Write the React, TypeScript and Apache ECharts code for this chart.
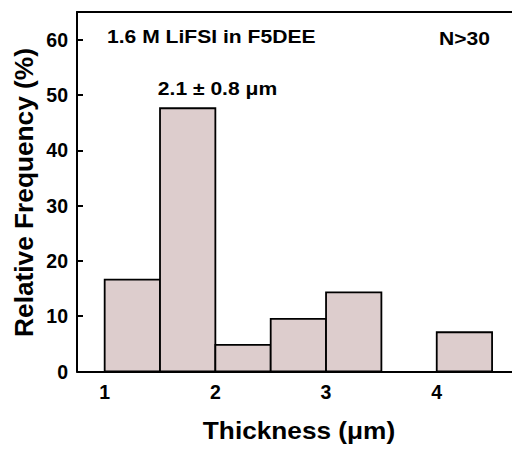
import React, { useEffect, useRef } from "react";
import * as echarts from "echarts";

const binStarts = [1.0, 1.5, 2.0, 2.5, 3.0, 3.5, 4.0];
const binEnds = [1.5, 2.0, 2.5, 3.0, 3.5, 4.0, 4.5];
const frequencies = [16.6, 47.6, 4.8, 9.5, 14.3, 0, 7.1];
const xTickLabels = [1, 2, 3, 4];
const yTickLabels = [0, 10, 20, 30, 40, 50, 60];
const titleText = "1.6 M LiFSI in F5DEE";
const countText = "N>30";
const meanText = "2.1 ± 0.8 μm";
const xName = "Thickness (μm)";
const yName = "Relative Frequency (%)";

const FONT = "Liberation Sans";

export default function App() {
  const ref = useRef<HTMLDivElement>(null);
  useEffect(() => {
    if (!ref.current) return;
    const chart = echarts.init(ref.current, null, { renderer: "svg" });
    const data = binStarts.map((s, i) => [s, binEnds[i], frequencies[i]]);
    const axisLine = { show: true, lineStyle: { color: "#000", width: 2 } };
    const tickFont = { color: "#000", fontSize: 19.5, fontWeight: "bold", fontFamily: FONT };
    chart.setOption({
      animation: false,
      backgroundColor: "#fff",
      grid: { left: 77, right: 0, top: 12, bottom: 77.5, containLabel: false },
      xAxis: [
        {
          type: "value",
          min: 0.75,
          max: 4.68,
          interval: 0.25,
          axisLine,
          axisTick: { show: false },
          axisLabel: {
            margin: 10,
            showMinLabel: false,
            showMaxLabel: false,
            ...tickFont,
            formatter: (v: number) => {
              const r = Math.round(v * 100) / 100;
              return xTickLabels.includes(r) ? String(r) : "";
            },
          },
          splitLine: { show: false },
        },
        {
          type: "value",
          position: "top",
          min: 0.75,
          max: 4.68,
          axisLine,
          axisTick: { show: false },
          axisLabel: { show: false },
          splitLine: { show: false },
        },
      ],
      yAxis: {
        type: "value",
        min: 0,
        max: 65,
        interval: 10,
        axisLine,
        axisTick: { show: true, inside: true, length: 6, lineStyle: { color: "#000", width: 2 } },
        axisLabel: {
          margin: 9,
          showMaxLabel: false,
          ...tickFont,
          formatter: (v: number) => (yTickLabels.includes(v) ? String(v) : ""),
        },
        splitLine: { show: false },
      },
      series: [
        {
          type: "custom",
          xAxisIndex: 0,
          encode: { x: [0, 1], y: 2 },
          data,
          renderItem: (params: any, api: any) => {
            const v = api.value(2);
            if (!v) return null;
            const p0 = api.coord([api.value(0), v]);
            const p1 = api.coord([api.value(1), 0]);
            return {
              type: "rect",
              shape: { x: p0[0], y: p0[1], width: p1[0] - p0[0], height: p1[1] - p0[1] },
              style: { fill: "#ddcdcd", stroke: "#000", lineWidth: 1.8 },
            };
          },
        },
      ],
      graphic: [
        {
          type: "text",
          x: 107,
          y: 36.5,
          scaleX: 1.14,
          style: { text: titleText, font: `bold 18.5px ${FONT}`, fill: "#000", align: "left", verticalAlign: "middle" },
        },
        {
          type: "text",
          x: 490,
          y: 38,
          scaleX: 1.14,
          style: { text: countText, font: `bold 18.5px ${FONT}`, fill: "#000", align: "right", verticalAlign: "middle" },
        },
        {
          type: "text",
          x: 217.5,
          y: 88.5,
          scaleX: 1.14,
          style: { text: meanText, font: `bold 18.5px ${FONT}`, fill: "#000", align: "center", verticalAlign: "middle" },
        },
        {
          type: "text",
          x: 299,
          y: 431,
          scaleX: 1.14,
          style: { text: xName, font: `bold 23px ${FONT}`, fill: "#000", align: "center", verticalAlign: "middle" },
        },
        {
          type: "text",
          x: 24,
          y: 192.5,
          rotation: Math.PI / 2,
          scaleX: 1.05,
          style: { text: yName, font: `bold 25px ${FONT}`, fill: "#000", align: "center", verticalAlign: "middle" },
        },
      ],
    });
    return () => chart.dispose();
  }, []);
  return <div ref={ref} style={{ position: "fixed", left: 0, top: 0, width: 512, height: 449 }} />;
}
